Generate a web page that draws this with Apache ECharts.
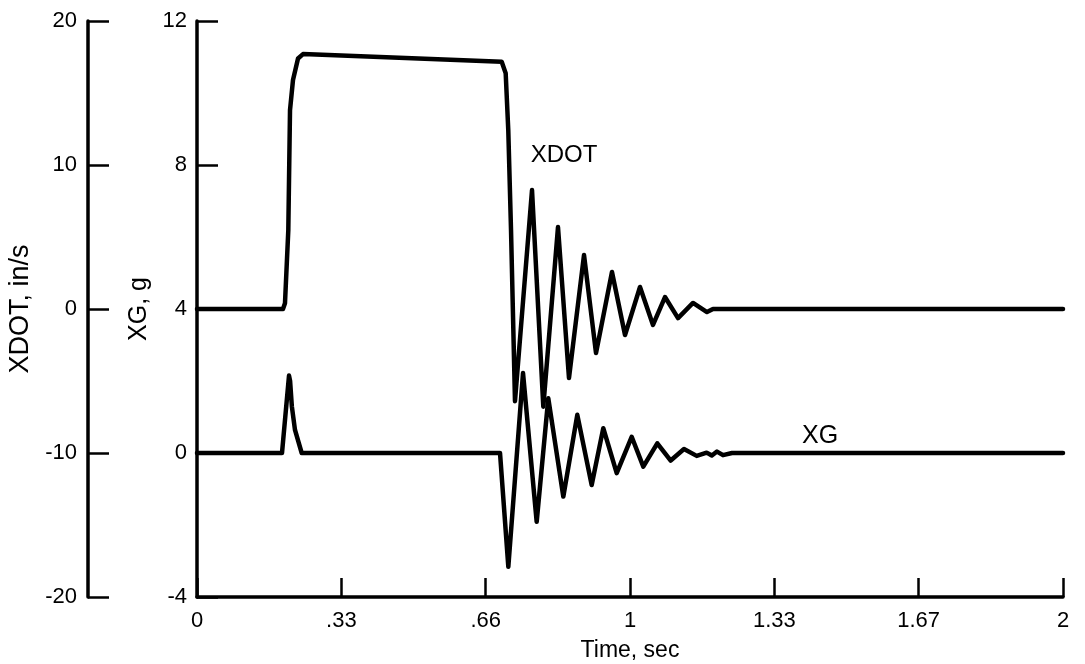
<!DOCTYPE html>
<html>
<head>
<meta charset="utf-8">
<script src="https://cdn.jsdelivr.net/npm/echarts@6/dist/echarts.min.js"></script>
<style>
html,body{margin:0;padding:0;background:#fff;}
#c{width:1085px;height:664px;}
</style>
</head>
<body>
<div id="c"></div>
<script>
// Time ticks (sec) and their printed labels
const xTickLabels = ['0', '.33', '.66', '1', '1.33', '1.67', '2'];

// XDOT, in/s
const xdotTime = [0, 0.1986, 0.2032, 0.2109, 0.2148, 0.2217, 0.2333, 0.2448, 0.7037, 0.7129, 0.7189, 0.7252, 0.7344,
  0.7737, 0.7998, 0.8337, 0.8591, 0.8938, 0.9215, 0.9584, 0.9885, 1.0231, 1.0531, 1.0808, 1.1109, 1.1455, 1.1778, 1.1917, 2.0];
const xdotVal = [0, 0, 0.4, 5.5, 13.8, 15.9, 17.4, 17.7, 17.17, 16.37, 12.4, 5.5, -6.4,
  8.26, -6.78, 5.69, -4.79, 3.75, -3.06, 2.57, -1.81, 1.53, -1.11, 0.83, -0.63, 0.42, -0.21, 0, 0];

// XG, g
const xgTime = [0, 0.1963, 0.2125, 0.2150, 0.2190, 0.2263, 0.2418, 0.6998, 0.7190, 0.7529, 0.7845, 0.8113, 0.8460,
  0.8783, 0.9115, 0.9383, 0.9693, 1.0039, 1.0307, 1.0630, 1.0940, 1.1247, 1.1540, 1.1771, 1.1890, 1.2009, 1.2148, 1.2356, 2.0];
const xgVal = [0, 0, 2.15, 2.0, 1.3, 0.64, 0, 0, -3.16, 2.22, -1.91, 1.52, -1.21,
  1.06, -0.89, 0.69, -0.56, 0.45, -0.38, 0.27, -0.21, 0.11, -0.08, 0.01, -0.07, 0.04, -0.06, 0, 0];

const FONT = "'Liberation Sans', Arial, Helvetica, sans-serif";
const TICK_FS = 22;
const chart = echarts.init(document.getElementById('c'), null, {renderer: 'canvas'});

const axisCommon = {
  axisLine: {show: true, onZero: false, lineStyle: {color: '#000', width: 3.5}},
  axisTick: {show: true, inside: true, length: 21, lineStyle: {color: '#000', width: 2.5}},
  axisLabel: {color: '#000', fontSize: TICK_FS, fontFamily: FONT, margin: 10},
  splitLine: {show: false}
};

chart.setOption({
  animation: false,
  backgroundColor: '#fff',
  grid: {left: 197, right: 22, top: 21, bottom: 67, containLabel: false, outerBoundsMode: 'none'},
  xAxis: Object.assign({}, axisCommon, {
    type: 'value', min: 0, max: 2, interval: 1 / 3,
    name: 'Time, sec', nameLocation: 'middle', nameGap: 42,
    nameTextStyle: {color: '#000', fontSize: 23, fontFamily: FONT},
    axisTick: {show: true, inside: true, length: 19, lineStyle: {color: '#000', width: 2.5}},
    axisLabel: {color: '#000', fontSize: TICK_FS, fontFamily: FONT, margin: 13, showMaxLabel: true,
      formatter: v => xTickLabels[Math.round(v * 3)]}
  }),
  yAxis: [
    Object.assign({}, axisCommon, {
      type: 'value', min: -4, max: 12, interval: 4, position: 'left',
      name: 'XG, g', nameLocation: 'middle', nameRotate: 90, nameGap: 33,
      nameTextStyle: {color: '#000', fontSize: 25, fontFamily: FONT}
    }),
    Object.assign({}, axisCommon, {
      type: 'value', min: -20, max: 20, interval: 10, position: 'left', offset: 109,
      name: 'XDOT, in/s', nameLocation: 'middle', nameRotate: 90, nameGap: 52,
      nameTextStyle: {color: '#000', fontSize: 27, fontFamily: FONT},
      axisLabel: {color: '#000', fontSize: TICK_FS, fontFamily: FONT, margin: 11}
    })
  ],
  series: [
    {
      type: 'line', name: 'XDOT', yAxisIndex: 1, showSymbol: false, smooth: false,
      lineStyle: {color: '#000', width: 4.5, join: 'round', cap: 'round'},
      data: xdotTime.map((t, i) => [t, xdotVal[i]]),
      markPoint: {
        symbol: 'rect', symbolSize: 0, silent: true,
        label: {show: true, position: 'inside', formatter: 'XDOT', color: '#000', fontSize: 24, fontFamily: FONT},
        data: [{coord: [0.8476, 10.7]}]
      }
    },
    {
      type: 'line', name: 'XG', yAxisIndex: 0, showSymbol: false, smooth: false,
      lineStyle: {color: '#000', width: 4.5, join: 'round', cap: 'round'},
      data: xgTime.map((t, i) => [t, xgVal[i]]),
      markPoint: {
        symbol: 'rect', symbolSize: 0, silent: true,
        label: {show: true, position: 'inside', formatter: 'XG', color: '#000', fontSize: 25, fontFamily: FONT},
        data: [{coord: [1.439, 0.47]}]
      }
    }
  ]
});
</script>
</body>
</html>
